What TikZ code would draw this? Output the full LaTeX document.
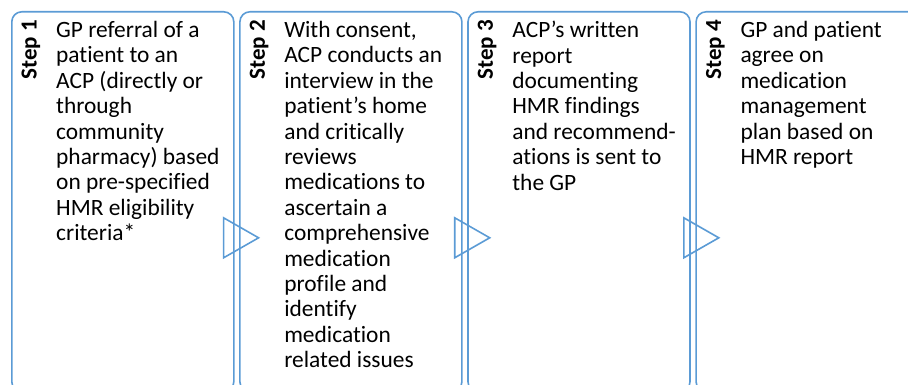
\documentclass[tikz,border=0pt]{standalone}
\usepackage{fontspec}
\setmainfont{Carlito}[Ligatures=NoCommon]
\usetikzlibrary{positioning}
\definecolor{stepblue}{RGB}{91,155,213}

\begin{document}
\begin{tikzpicture}[x=1pt,y=1pt,
    box/.style={draw=stepblue, line width=1.6pt, rounded corners=10pt, minimum width=222pt, minimum height=380pt, inner sep=0pt, anchor=north west},
    steplabel/.style={rotate=90, anchor=east, inner sep=0pt, font=\bfseries\fontsize{23}{26}\selectfont},
    steptext/.style={anchor=north west, align=left, inner sep=0pt, font=\fontsize{23.4}{25.4}\selectfont},
    tri/.style={draw=stepblue, line width=1.6pt, line join=miter}]
        \useasboundingbox (0,0) rectangle (908,384);
        \clip (0,0) rectangle (908,384);

        \node (step1) [box] at (11,373) {};
        \node (step2) [box, right=4.5pt of step1] {};
        \node (step3) [box, right=4.5pt of step2] {};
        \node (step4) [box, right=4.5pt of step3] {};

        \node (lab1) [steplabel] at ([xshift=20pt,yshift=-9pt]step1.north west) {Step 1};
        \node (lab2) [steplabel] at ([xshift=20pt,yshift=-9pt]step2.north west) {Step 2};
        \node (lab3) [steplabel] at ([xshift=20pt,yshift=-9pt]step3.north west) {Step 3};
        \node (lab4) [steplabel] at ([xshift=20pt,yshift=-9pt]step4.north west) {Step 4};

        \node (txt1) [steptext] at ([xshift=45pt,yshift=-10pt]step1.north west) {GP referral of a\\patient to an\\ACP (directly or\\through\\community\\pharmacy) based\\on pre-specified\\HMR eligibility\\criteria*};
        \node (txt2) [steptext] at ([xshift=45pt,yshift=-10pt]step2.north west) {With consent,\\ACP conducts an\\interview in the\\patient’s home\\and critically\\reviews\\medications to\\ascertain a\\comprehensive\\medication\\profile and\\identify\\medication\\related issues};
        \node (txt3) [steptext] at ([xshift=45pt,yshift=-10pt]step3.north west) {ACP’s written\\report\\documenting\\HMR findings\\and recommend-\\ations is sent to\\the GP};
        \node (txt4) [steptext] at ([xshift=45pt,yshift=-10pt]step4.north west) {GP and patient\\agree on\\medication\\management\\plan based on\\HMR report};

        % arrows between the steps
        \coordinate (a12) at ([xshift=-11pt,yshift=-36pt]step1.east);
        \coordinate (a23) at ([xshift=-8pt,yshift=-36pt]step2.east);
        \coordinate (a34) at ([xshift=-7pt,yshift=-36pt]step3.east);
        \draw[tri] (a12) ++(0,20) -- ++(35,-20) -- ++(-35,-20) -- cycle;
        \draw[tri] (a23) ++(0,20) -- ++(35,-20) -- ++(-35,-20) -- cycle;
        \draw[tri] (a34) ++(0,20) -- ++(35,-20) -- ++(-35,-20) -- cycle;
    \end{tikzpicture}
\end{document}
